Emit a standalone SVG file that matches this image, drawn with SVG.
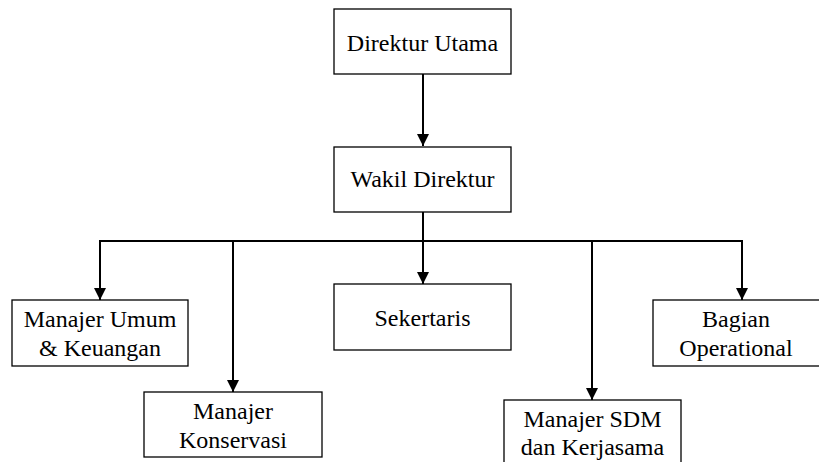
<svg xmlns="http://www.w3.org/2000/svg" width="819" height="462" viewBox="0 0 819 462">
<style>
.box{fill:#fff;stroke:#000;stroke-width:1.3}
text{font-family:'Liberation Serif','Times New Roman','DejaVu Serif',serif;font-size:24px;fill:#000;text-anchor:middle}
.c{fill:none;stroke:#000;stroke-width:2}
</style>
<defs>
<marker id="ah" viewBox="0 0 10 10" refX="10" refY="5" markerWidth="6" markerHeight="6" markerUnits="strokeWidth" orient="auto"><path d="M0,0 L10,5 L0,10 z" fill="#000"/></marker>
</defs>
<rect width="819" height="462" fill="#fff"/>
<g id="connectors">
<path class="c" d="M423,74 V146" marker-end="url(#ah)"/>
<path class="c" d="M423,212 V284" marker-end="url(#ah)"/>
<path class="c" d="M100,241 H742"/>
<path class="c" d="M100,240 V300" marker-end="url(#ah)"/>
<path class="c" d="M233,241 V392" marker-end="url(#ah)"/>
<path class="c" d="M592,241 V400" marker-end="url(#ah)"/>
<path class="c" d="M742,240 V300" marker-end="url(#ah)"/>
</g>
<g font-family="Liberation Serif, serif">
<g id="direktur-utama"><rect class="box" x="334" y="9" width="177" height="65"/><text x="422.5" y="51">Direktur Utama</text></g>
<g id="wakil-direktur"><rect class="box" x="334" y="147" width="177" height="65"/><text x="422.5" y="187">Wakil Direktur</text></g>
<g id="manajer-umum"><rect class="box" x="12" y="300" width="176" height="66"/><text x="100" y="327">Manajer Umum</text><text x="100" y="356">&amp; Keuangan</text></g>
<g id="manajer-konservasi"><rect class="box" x="144" y="392" width="178" height="65"/><text x="233" y="419">Manajer</text><text x="233" y="448">Konservasi</text></g>
<g id="sekertaris"><rect class="box" x="334" y="284" width="177" height="66"/><text x="422.5" y="326">Sekertaris</text></g>
<g id="manajer-sdm"><rect class="box" x="504" y="400" width="177" height="70"/><text x="592.5" y="427">Manajer SDM</text><text x="592.5" y="455">dan Kerjasama</text></g>
<g id="bagian-operational"><rect class="box" x="653" y="300" width="170" height="66"/><text x="736" y="327">Bagian</text><text x="736" y="356">Operational</text></g>
</g>
</svg>
